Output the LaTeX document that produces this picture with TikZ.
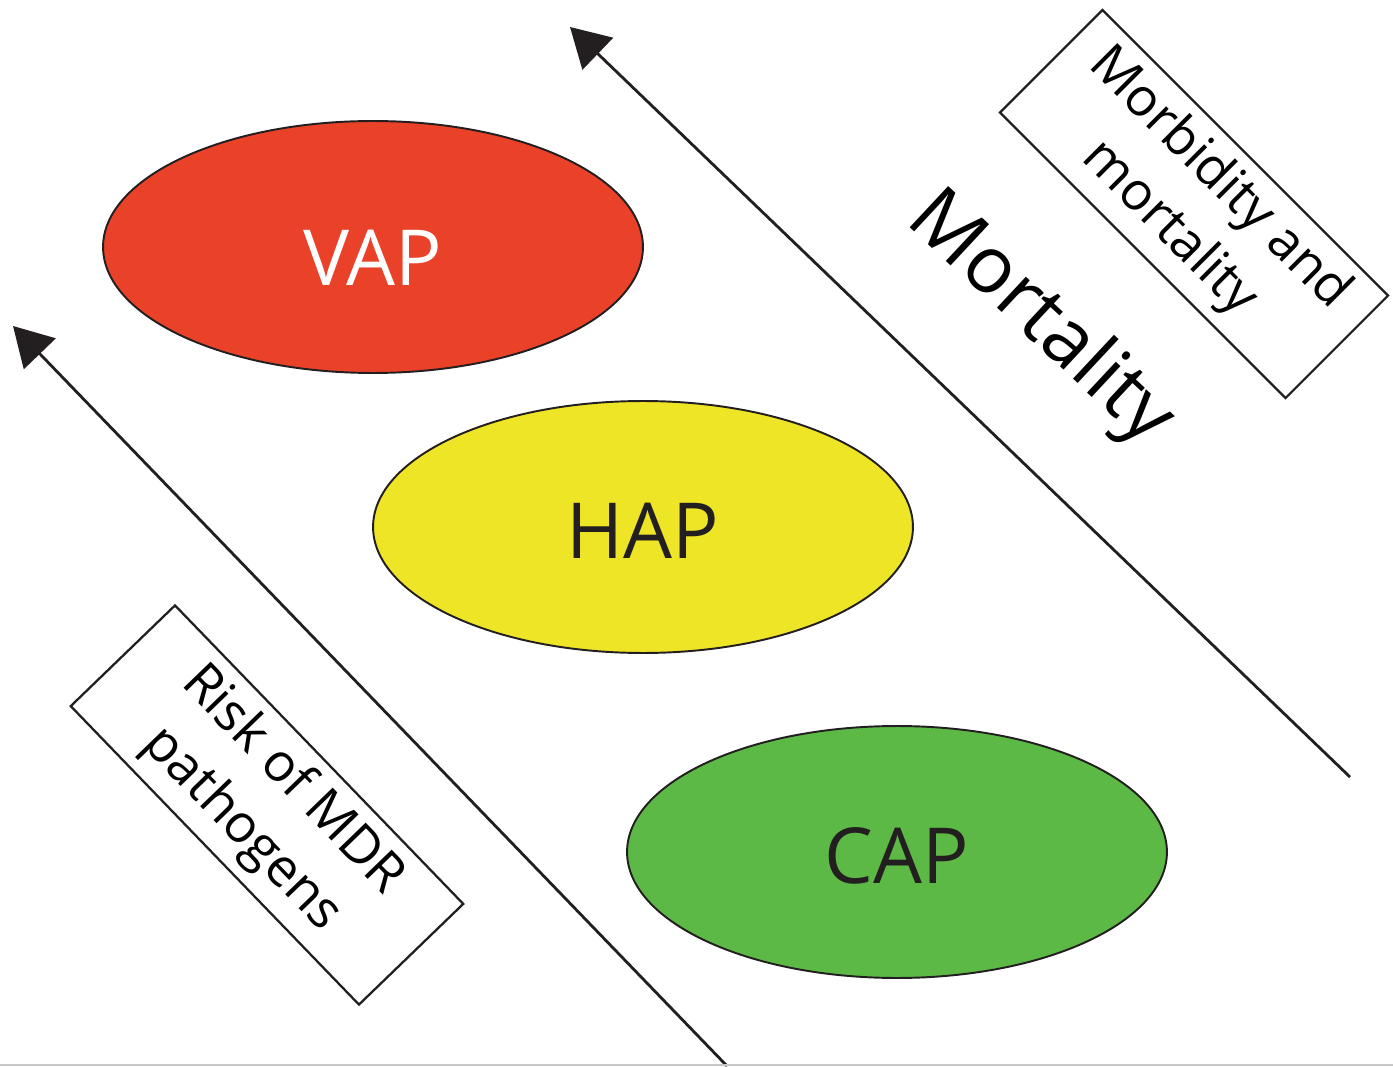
\documentclass[tikz,border=0pt]{standalone}
\usepackage{fontspec}
\setmainfont{Open Sans}
\usetikzlibrary{shapes.geometric,arrows.meta}
\definecolor{vapred}{HTML}{EA4129}
\definecolor{hapyellow}{HTML}{EEE526}
\definecolor{capgreen}{HTML}{5DB946}
\definecolor{ink}{HTML}{231F20}
\tikzset{
  oval/.style={ellipse, draw=ink, line width=1.1pt, inner sep=0pt,
    minimum width=10.8cm, minimum height=5.04cm, font=\fontsize{44}{50}\selectfont},
  tag/.style={draw=ink, line width=1.3pt, inner sep=0pt, align=center,
    minimum height=2.9cm, font=\fontsize{30}{40}\selectfont},
  trend/.style={draw=ink, line width=1.6pt, -{Triangle[length=22pt,width=25pt]}}
}
\begin{document}
\begin{tikzpicture}[x=0.02cm, y=-0.02cm]
        \useasboundingbox (0,0) rectangle (1393,1067);
        % the three pneumonia types
        \node[oval, fill=vapred, text=white, text height=44pt] (vap) at (373, 247) {VAP};
        \node[oval, fill=hapyellow, text=ink, text height=36pt] (hap) at (643, 527) {HAP};
        \node[oval, fill=capgreen, text=ink, text height=36pt] (cap) at (897, 852) {CAP};
        % left arrow: MDR risk
        \coordinate (mdrtail) at (727, 1066);
        \coordinate (mdrtip) at (13, 326);
        \draw[trend] (mdrtail) -- (mdrtip);
        \node[tag, rotate=-46, minimum width=8.3cm] (mdr) at (267, 805) {Risk of MDR\\pathogens};
        % right arrow: mortality
        \coordinate (morttail) at (1350, 777);
        \coordinate (morttip) at (570, 27);
        \draw[trend] (morttail) -- (morttip);
        \node[rotate=-43, font=\fontsize{45}{50}\selectfont] (mort) at (1040, 320) {Mortality};
        \node[tag, rotate=-45, minimum width=8.08cm] (morb) at (1194, 204) {Morbidity and\\mortality};
        % bottom edge
        \coordinate (edgel) at (0, 1065);
        \coordinate (edger) at (1393, 1065);
        \draw[gray!45, line width=0.8pt] (edgel) -- (edger);
\end{tikzpicture}
\end{document}
